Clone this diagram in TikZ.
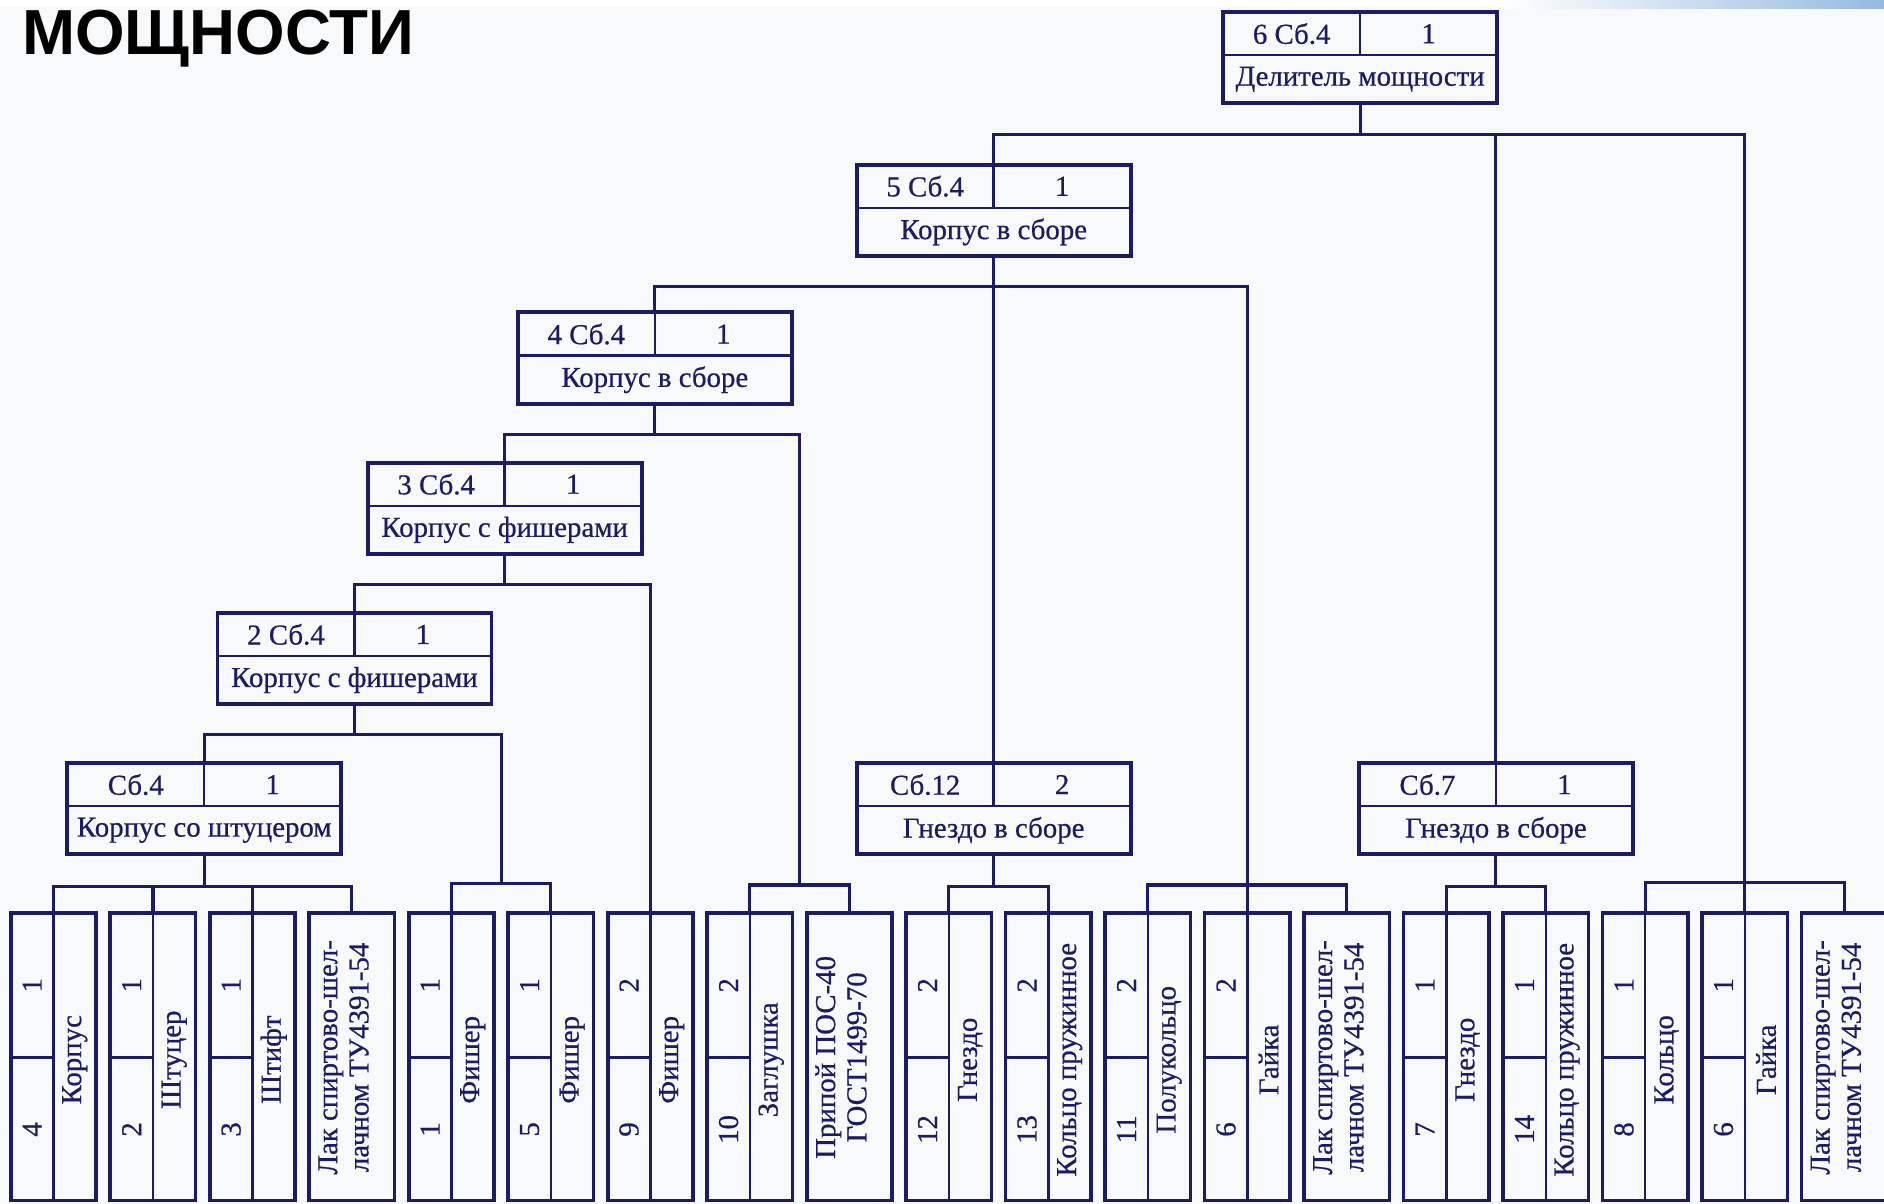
\documentclass[tikz,border=0pt]{standalone}
\usepackage{fontspec}
\setmainfont{Liberation Serif}
\newfontfamily\inkfont{Liberation Serif}[FakeBold=0.6]
\newfontfamily\titlefont{Liberation Sans}
\usetikzlibrary{calc}
\definecolor{ink}{RGB}{28,28,100}
\definecolor{bg}{RGB}{248,249,251}
\definecolor{sky}{RGB}{150,185,225}
\tikzset{
  asm/.style={draw=ink, line width=1.6pt, minimum width=114pt, minimum height=38pt, inner sep=0pt},
  leafbox/.style={draw=ink, line width=1.5pt, minimum width=35.5pt, minimum height=119.5pt, inner sep=0pt},
  sep/.style={draw=ink, line width=1pt},
  conn/.style={draw=ink, line width=1.3pt},
  lbl/.style={text=ink, font=\inkfont\fontsize{12}{13}\selectfont, inner sep=0pt},
  vlbl/.style={lbl, rotate=90},
  ttl/.style={font=\titlefont\bfseries\fontsize{26.5}{30}\selectfont, anchor=base west, inner sep=0pt, text=black}
}
\newcommand\asmbox[6]{%
  \node[asm] (#1) at (#2,#3+38) {};
  \draw[sep] (#2-114,#3+36) -- (#2+114,#3+36);
  \draw[sep] (#2,#3) -- (#2,#3+36);
  \node[lbl] (#1a) at (#2-57,#3+18) {#4};
  \node[lbl] (#1b) at (#2+57,#3+18) {#5};
  \node[lbl] (#1c) at (#2,#3+56) {#6};
}
\newcommand\leaf[4]{%
  \pgfmathsetmacro\lcx{44.5+82.8*#1}
  \node[leafbox] (L#1) at (\lcx,879.5) {};
  \draw[sep] (\lcx,760) -- (\lcx,999);
  \draw[sep] (\lcx-35.5,880) -- (\lcx,880);
  \node[vlbl] (L#1q) at (\lcx-17.75,820) {#2};
  \node[vlbl] (L#1p) at (\lcx-17.75,940) {#3};
  \node[vlbl] (L#1n) at (\lcx+17.75,882) {#4};
}
\newcommand\leafnote[3]{%
  \pgfmathsetmacro\lcx{44.5+82.8*#1}
  \node[leafbox] (L#1) at (\lcx,879.5) {};
  \node[vlbl, align=center] (L#1n) at (\lcx-7,880) {#2\\#3};
}
\begin{document}
\begin{tikzpicture}[x=0.5pt,y=-0.5pt]
\useasboundingbox (0,0) rectangle (1568,1002);
\fill[bg] (0,0) rectangle (1568,1002);
\fill[white] (0,0) rectangle (1568,6);
\shade[left color=white, right color=sky] (1250,0) rectangle (1568,7);
\node[ttl] (title) at (18,45) {МОЩНОСТИ};

\asmbox{p6}{1132}{10}{6 Сб.4}{1}{Делитель мощности}
\asmbox{p5}{827}{137}{5 Сб.4}{1}{Корпус в сборе}
\asmbox{p4}{545}{260}{4 Сб.4}{1}{Корпус в сборе}
\asmbox{p3}{420}{385}{3 Сб.4}{1}{Корпус с фишерами}
\asmbox{p2}{295}{510}{2 Сб.4}{1}{Корпус с фишерами}
\asmbox{p1}{170}{635}{Сб.4}{1}{Корпус со штуцером}
\asmbox{c12}{827}{635}{Сб.12}{2}{Гнездо в сборе}
\asmbox{c7}{1245}{635}{Сб.7}{1}{Гнездо в сборе}

\leaf{0}{1}{4}{Корпус}
\leaf{1}{1}{2}{Штуцер}
\leaf{2}{1}{3}{Штифт}
\leafnote{3}{Лак спиртово-шел-}{лачном ТУ4391-54}
\leaf{4}{1}{1}{Фишер}
\leaf{5}{1}{5}{Фишер}
\leaf{6}{2}{9}{Фишер}
\leaf{7}{2}{10}{Заглушка}
\leafnote{8}{Припой ПОС-40}{ГОСТ1499-70}
\leaf{9}{2}{12}{Гнездо}
\leaf{10}{2}{13}{Кольцо пружинное}
\leaf{11}{2}{11}{Полукольцо}
\leaf{12}{2}{6}{Гайка}
\leafnote{13}{Лак спиртово-шел-}{лачном ТУ4391-54}
\leaf{14}{1}{7}{Гнездо}
\leaf{15}{1}{14}{Кольцо пружинное}
\leaf{16}{1}{8}{Кольцо}
\leaf{17}{1}{6}{Гайка}
\leafnote{18}{Лак спиртово-шел-}{лачном ТУ4391-54}

% bars
\path (p6.south) ++(0,24) coordinate (b6);
\path (p5.south) ++(0,24) coordinate (b5);
\path (p4.south) ++(0,24) coordinate (b4);
\path (p3.south) ++(0,24) coordinate (b3);
\path (p2.south) ++(0,24) coordinate (b2);
\path (p1.south) ++(0,25) coordinate (b1);
\path (c12.south) ++(0,25) coordinate (b12);
\path (c7.south) ++(0,25) coordinate (b7);
\path (L5.north) ++(0,-23) coordinate (gB5);
\path (L4.north) ++(0,-23) coordinate (gB4);
\path (L7.north) ++(0,-22) coordinate (gC7);
\path (L8.north) ++(0,-22) coordinate (gC8);
\path (L11.north) ++(0,-22) coordinate (gE11);
\path (L13.north) ++(0,-22) coordinate (gE13);
\path (L16.north) ++(0,-24) coordinate (gG16);
\path (L18.north) ++(0,-24) coordinate (gG18);

\draw[conn] (p6.south) -- (b6);
\draw[conn] (b6) -| (p5.north);
\draw[conn] (b6) -| (c7.north);
\draw[conn] (b6) -| (L17.north);

\draw[conn] (p5.south) -- (b5);
\draw[conn] (b5) -| (p4.north);
\draw[conn] (b5) -| (c12.north);
\draw[conn] (b5) -| (L12.north);

\draw[conn] (p4.south) -- (b4);
\draw[conn] (b4) -| (p3.north);
\draw[conn] (b4) -| ($(gC7)!0.5!(gC8)$);
\draw[conn] (L7.north) -- (gC7) -- (gC8) -- (L8.north);

\draw[conn] (p3.south) -- (b3);
\draw[conn] (b3) -| (p2.north);
\draw[conn] (b3) -| (L6.north);

\draw[conn] (p2.south) -- (b2);
\draw[conn] (b2) -| (p1.north);
\draw[conn] (b2) -| ($(gB4)!0.5!(gB5)$);
\draw[conn] (L4.north) -- (gB4) -- (gB5) -- (L5.north);

\draw[conn] (p1.south) -- (b1);
\draw[conn] (L0.north) -- (L0.north |- b1) -- (L3.north |- b1) -- (L3.north);
\draw[conn] (L1.north) -- (L1.north |- b1);
\draw[conn] (L2.north) -- (L2.north |- b1);

\draw[conn] (c12.south) -- (b12);
\draw[conn] (L9.north) -- (L9.north |- b12) -- (L10.north |- b12) -- (L10.north);

\draw[conn] (L11.north) -- (gE11) -- (gE13) -- (L13.north);

\draw[conn] (c7.south) -- (b7);
\draw[conn] (L14.north) -- (L14.north |- b7) -- (L15.north |- b7) -- (L15.north);

\draw[conn] (L16.north) -- (gG16) -- (gG18) -- (L18.north);
\end{tikzpicture}
\end{document}
